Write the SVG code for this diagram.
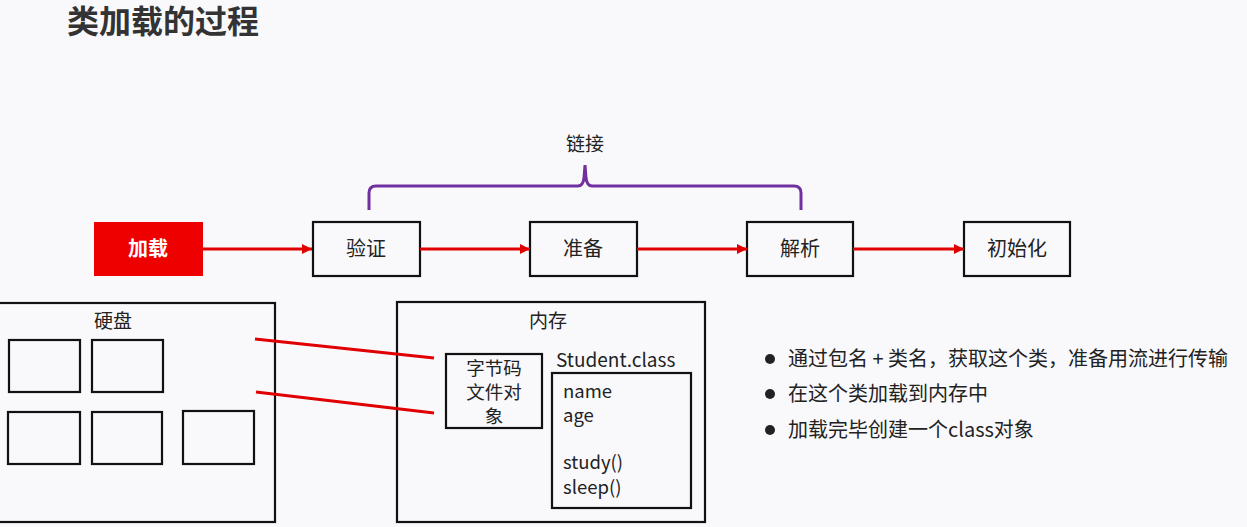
<svg xmlns="http://www.w3.org/2000/svg" width="1247" height="527" viewBox="0 0 1247 527">
<defs>
<marker id="ah" viewBox="0 0 10 10" refX="10" refY="5" markerWidth="10" markerHeight="10" markerUnits="userSpaceOnUse" orient="auto">
<path d="M0,0 L10,5 L0,10 z" fill="#e00000"/>
</marker>
<style>
text{font-family:"Noto Sans CJK SC","Microsoft YaHei",sans-serif;fill:#222}
.box{fill:#f9f9fc;stroke:#111;stroke-width:2.2}
.lbl{font-size:20px;text-anchor:middle}
.arr{stroke:#e00000;stroke-width:3;fill:none;marker-end:url(#ah)}
.red{stroke:#e00000;stroke-width:3;fill:none}
.t19{font-size:18.5px}
.note{font-size:20px}
</style>
</defs>
<rect width="1247" height="527" fill="#f9f9fc"/>
<text x="67" y="33" style="font-size:32px;font-weight:bold;fill:#333">类加载的过程</text>

<g id="bracket">
<path d="M369,210 L369,193 Q369,186 376,186 L578,186 Q583,186 584,178 L585,165 L586,178 Q587,186 592,186 L794,186 Q801,186 801,193 L801,210" fill="none" stroke="#7030a0" stroke-width="3"/>
<text class="lbl" x="585" y="151" style="font-size:19px">链接</text>
</g>

<g id="load">
<rect x="94" y="222" width="109" height="54" fill="#ee0000"/>
<text class="lbl" x="148" y="256" style="fill:#fff;font-weight:bold">加载</text>
</g>
<g id="verify">
<rect class="box" x="313" y="222" width="107" height="54"/>
<text class="lbl" x="366" y="256">验证</text>
</g>
<g id="prepare">
<rect class="box" x="530" y="222" width="107" height="54"/>
<text class="lbl" x="583" y="256">准备</text>
</g>
<g id="resolve">
<rect class="box" x="747" y="222" width="106" height="54"/>
<text class="lbl" x="800" y="256">解析</text>
</g>
<g id="init">
<rect class="box" x="964" y="222" width="106" height="54"/>
<text class="lbl" x="1017" y="256">初始化</text>
</g>

<g id="disk">
<rect class="box" x="-3" y="303" width="278" height="219"/>
<text class="lbl" x="113" y="328" style="font-size:19px">硬盘</text>
<rect class="box" x="9" y="340" width="71" height="52"/>
<rect class="box" x="92" y="340" width="71" height="52"/>
<rect class="box" x="8" y="412" width="72" height="52"/>
<rect class="box" x="92" y="412" width="70" height="52"/>
<rect class="box" x="183" y="411" width="71" height="53"/>
</g>

<g id="memory">
<rect class="box" x="397" y="302" width="308" height="220"/>
<text class="lbl" x="548" y="328" style="font-size:19px">内存</text>
</g>
<g id="bytecode">
<rect class="box" x="446" y="354" width="96" height="74"/>
<text class="lbl" x="494" y="375" style="font-size:18.5px">字节码</text>
<text class="lbl" x="494" y="399" style="font-size:18.5px">文件对</text>
<text class="lbl" x="494" y="423" style="font-size:18.5px">象</text>
</g>
<g id="student">
<text style="font-size:19px" x="556" y="367">Student.class</text>
<rect class="box" x="552" y="373" width="139" height="135"/>
<text class="t19" x="563" y="398">name</text>
<text class="t19" x="563" y="422">age</text>
<text class="t19" x="563" y="469">study()</text>
<text class="t19" x="563" y="494">sleep()</text>
</g>

<g id="notes">
<circle cx="770" cy="359" r="5" fill="#222"/>
<circle cx="770" cy="394" r="5" fill="#222"/>
<circle cx="770" cy="430" r="5" fill="#222"/>
<text class="note" x="788" y="366">通过包名 + 类名，获取这个类，准备用流进行传输</text>
<text class="note" x="788" y="401">在这个类加载到内存中</text>
<text class="note" x="788" y="437">加载完毕创建一个class对象</text>
</g>

<g id="connectors">
<line class="arr" x1="203" y1="249" x2="312" y2="249"/>
<line class="arr" x1="420" y1="249" x2="530" y2="249"/>
<line class="arr" x1="637" y1="249" x2="747" y2="249"/>
<line class="arr" x1="853" y1="249" x2="964" y2="249"/>
<line class="red" x1="255" y1="339" x2="434" y2="358"/>
<line class="red" x1="256" y1="392" x2="434" y2="413"/>
</g>
</svg>
